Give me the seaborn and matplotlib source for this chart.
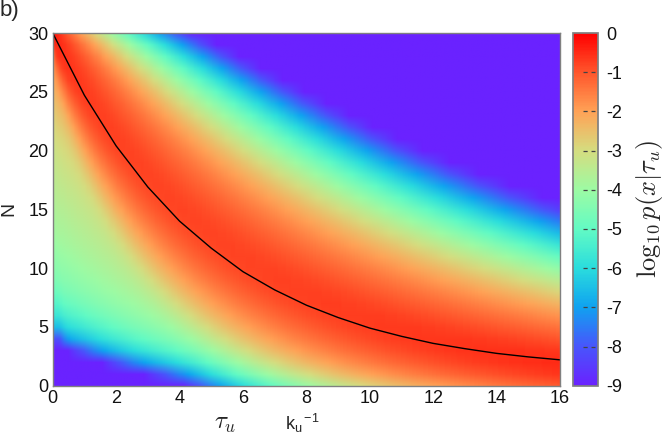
import numpy as np
import matplotlib
matplotlib.use("Agg")
import matplotlib.pyplot as plt
import matplotlib.colors as mcolors
import matplotlib.transforms as mtrans
import seaborn as sns
from math import lgamma

# ---------------------------------------------------------------------------
# values
# ---------------------------------------------------------------------------
N_MAX = 30
# log10 p(x | tau_u = 0) read down the left edge, x = 0 .. 30
LOG_P_START = [-12.0, -12.0, -11.0, -10.0, -8.2, -6.6, -5.8, -5.3, -4.9, -4.6,
               -4.4, -4.25, -4.1, -3.95, -3.85, -3.75, -3.65, -3.55, -3.45, -3.35,
               -3.25, -3.1, -3.0, -2.8, -2.6, -2.4, -2.1, -1.8, -1.4, -0.9, -0.2]
# survival exp(-k tau): a few decay rates, fitted to the upper purple edge
K_RATES = [0.148, 0.163, 0.178]
K_WEIGHTS = [0.3, 0.4, 0.3]
TAIL_SPREAD = 0.3        # the x < 30 part of the start spreads less than binomial
TAU_MAX = 16

# black curve, read at integer tau
TAU_LINE = [0, 1, 2, 3, 4, 5, 6, 7, 8, 9, 10, 11, 12, 13, 14, 15, 16]
N_LINE = [30.0, 24.7, 20.4, 16.9, 14.0, 11.7, 9.7, 8.15, 6.85, 5.8, 4.9,
          4.2, 3.6, 3.15, 2.75, 2.45, 2.2]

CB_TICKS = [0, -1, -2, -3, -4, -5, -6, -7, -8, -9]

# ---------------------------------------------------------------------------
# distribution
# ---------------------------------------------------------------------------
p0 = 10 ** np.array(LOG_P_START)
p0 = p0 / p0.sum()
tau = np.linspace(0, TAU_MAX, 641)
n = np.arange(N_MAX + 1)
logc = np.array([lgamma(N_MAX + 1) - lgamma(j + 1) - lgamma(N_MAX - j + 1) for j in n])
prob = np.zeros((N_MAX + 1, tau.size))
for rate, w in zip(K_RATES, K_WEIGHTS):
    s = np.exp(-rate * tau)
    # full start value: binomial survival
    binom = (np.exp(logc)[:, None] * s[None, :] ** n[:, None]
             * (1 - s[None, :]) ** (N_MAX - n)[:, None])
    prob += w * p0[N_MAX] * binom
    # lower start values: narrower spread around M * s
    for M in range(N_MAX):
        mu = M * s
        var = TAIL_SPREAD * M * s * (1 - s) + 0.02
        g = np.exp(-(n[:, None] - mu[None, :]) ** 2 / (2 * var[None, :]))
        g = g / g.sum(axis=0, keepdims=True)
        prob += w * p0[M] * g
logp = np.clip(np.log10(np.maximum(prob, 1e-30)), -9, 0)

# rainbow, with the violet end as in the reference
rb = plt.get_cmap("rainbow")
stops = np.linspace(0, 1, 10)
cols = [rb(v) for v in stops]
cols[0] = "#6a22ff"
cmap = mcolors.LinearSegmentedColormap.from_list("rb2", list(zip(stops, cols)))

# ---------------------------------------------------------------------------
# plot
# ---------------------------------------------------------------------------
sns.set_theme(style="white")
plt.rcParams["font.family"] = ["Liberation Sans", "DejaVu Sans"]
plt.rcParams["mathtext.fontset"] = "cm"
plt.rcParams["lines.scale_dashes"] = False

fig = plt.figure(figsize=(6.64, 4.34), dpi=100)
ax = fig.add_axes([52.7 / 664, 1 - 385.7 / 434, 507.3 / 664, 352.7 / 434])
cax = fig.add_axes([572.7 / 664, 1 - 385.7 / 434, 25.6 / 664, 352.7 / 434])

dt = tau[1] - tau[0]
im = ax.imshow(logp, origin="lower", aspect="auto", cmap=cmap,
               vmin=-9, vmax=0, interpolation="bilinear",
               extent=[-dt / 2, TAU_MAX + dt / 2, -0.5, N_MAX + 0.5])
sns.lineplot(x=TAU_LINE, y=N_LINE, color="black", linewidth=1.0, ax=ax)

ax.set_xlim(0, TAU_MAX)
ax.set_ylim(0, N_MAX)
ax.set_xticks(range(0, 17, 2))
ax.set_yticks(range(0, 31, 5))
ax.tick_params(labelsize=13, length=0, pad=3, labelcolor="#111111")
for sp in ax.spines.values():
    sp.set_color("#808080")
    sp.set_linewidth(1.0)
ax.set_xlabel("")
ax.set_ylabel("N", fontsize=14, labelpad=8)

cb = fig.colorbar(im, cax=cax, ticks=CB_TICKS)
cb.outline.set_edgecolor("#808080")
cb.ax.tick_params(labelsize=13, length=0, pad=6, labelcolor="#111111")
cb.ax.set_yticklabels([str(t) for t in CB_TICKS])
trans = mtrans.blended_transform_factory(cax.transAxes, cax.transData)
cax.hlines(CB_TICKS[1:-1], 0.40, 0.88, transform=trans, colors="#444444",
           linewidth=0.9, linestyles=(0, (3.0, 2.8)))
cb.set_label(r"$\log_{10}p(x|\tau_u)$", fontsize=19, labelpad=8)

fig.text(225 / 664, 1 - 429 / 434, r"$\tau_u$", fontsize=18, ha="center", va="baseline")
fig.text(302 / 664, 1 - 430 / 434, r"k$_\mathregular{u}$$^\mathregular{-1}$",
         fontsize=13, ha="center", va="baseline")
fig.text(0.0, 1.0, "b)", fontsize=16, ha="left", va="top")

fig.savefig("out.png", dpi=100)
